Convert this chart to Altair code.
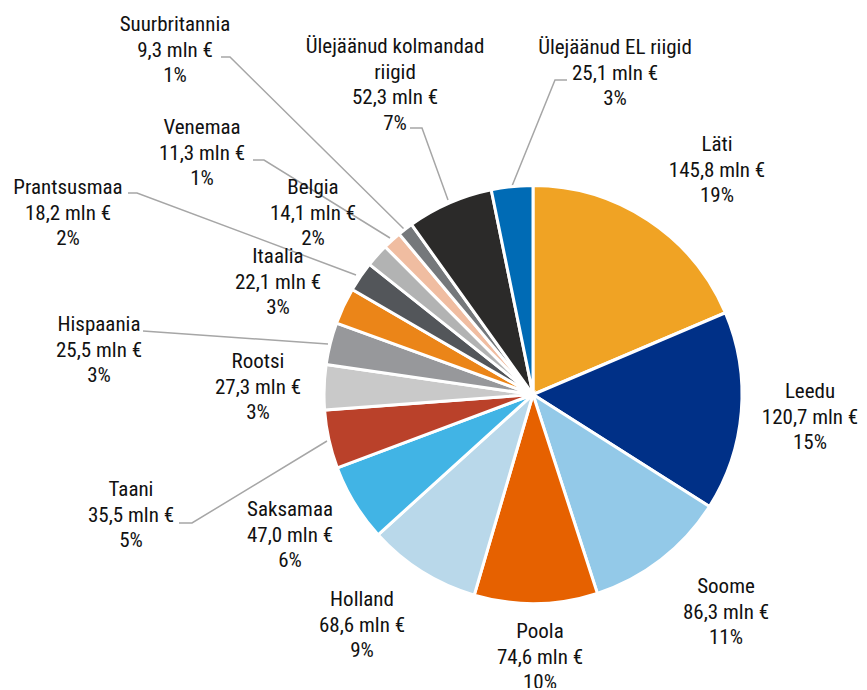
import altair as alt
import pandas as pd

# ---- data ----
names = ["Läti", "Leedu", "Soome", "Poola", "Holland", "Saksamaa", "Taani", "Rootsi",
         "Hispaania", "Itaalia", "Prantsusmaa", "Belgia", "Venemaa", "Suurbritannia",
         "Ülejäänud kolmandad riigid", "Ülejäänud EL riigid"]
values = [145.8, 120.7, 86.3, 74.6, 68.6, 47.0, 35.5, 27.3,
          25.5, 22.1, 18.2, 14.1, 11.3, 9.3, 52.3, 25.1]
colors = ["#F0A324", "#003087", "#93C9E8", "#E66100", "#B9D8EA", "#41B4E5", "#BA412A", "#C9C9C9",
          "#97989B", "#EB8518", "#53565A", "#B2B3B3", "#F0BDA1", "#75787B", "#2B2A29", "#006BB5"]

# ---- label layout (page pixel coordinates: block centre x, first line y) ----
label_x = [717, 810, 726, 540, 362, 290, 131, 258, 99, 278, 68, 313, 202, 175, 395, 615]
label_y = [145, 392, 587, 632, 600, 510, 490, 362, 325, 257, 188, 188, 128, 25, 47, 48]

# leader lines: name -> list of points (page pixels)
leaders = {
    "Ülejäänud EL riigid": [(567, 80), (555, 80), (512, 186)],
    "Ülejäänud kolmandad riigid": [(410, 128), (422, 128), (448, 200)],
    "Suurbritannia": [(221, 57), (230, 57), (404, 229)],
    "Venemaa": [(253, 160), (264, 160), (390, 238)],
    "Prantsusmaa": [(128, 193), (137, 193), (356, 275)],
    "Hispaania": [(143, 331), (328, 344)],
    "Taani": [(179, 523), (192, 523), (327, 441)],
}

total = sum(values)


def fmt(v):
    return f"{v:.1f}".replace(".", ",")


rows = []
for i, (n, v, c) in enumerate(zip(names, values, colors)):
    disp = "Ülejäänud kolmandad\nriigid" if n == "Ülejäänud kolmandad riigid" else n
    pct = round(v / total * 100)
    rows.append({
        "idx": i, "name": n, "value": v,
        "label": f"{disp}\n{fmt(v)} mln €\n{pct}%",
        "lx": label_x[i], "ly": label_y[i],
    })
df = pd.DataFrame(rows)

lrows = []
for n, pts in leaders.items():
    for k, (px, py) in enumerate(pts):
        lrows.append({"name": n, "k": k, "px": px, "py": py})
ldf = pd.DataFrame(lrows)

W, H = 851, 680
xs = alt.Scale(domain=[8, 8 + W], range=[0, W])
ys = alt.Scale(domain=[8, 8 + H], range=[0, H])

FONT = "Roboto Condensed, Roboto, sans-serif"

pie = alt.Chart(df).mark_arc(outerRadius=209, stroke="white", strokeWidth=3).encode(
    theta=alt.Theta("value:Q", stack=True),
    order=alt.Order("idx:Q"),
    color=alt.Color("name:N", scale=alt.Scale(domain=names, range=colors), legend=None),
    x=alt.value(533 - 8),
    y=alt.value(394.5 - 8),
)

lines = alt.Chart(ldf).mark_line(color="#A6A6A6", strokeWidth=1.5).encode(
    x=alt.X("px:Q", scale=xs, axis=None),
    y=alt.Y("py:Q", scale=ys, axis=None),
    detail="name:N",
    order="k:Q",
)

text = alt.Chart(df).mark_text(
    lineBreak="\n", lineHeight=25.5, fontSize=21, font=FONT, color="#111111",
    align="center", baseline="middle"
).encode(
    x=alt.X("lx:Q", scale=xs, axis=None),
    y=alt.Y("ly:Q", scale=ys, axis=None),
    text="label:N",
)

chart = alt.layer(lines, pie, text).properties(
    width=W, height=H, padding=0,
    autosize=alt.AutoSizeParams(type="fit", contains="padding"),
).configure_view(stroke=None)

chart.save("out.html", embed_options={"renderer": "svg", "actions": False})
